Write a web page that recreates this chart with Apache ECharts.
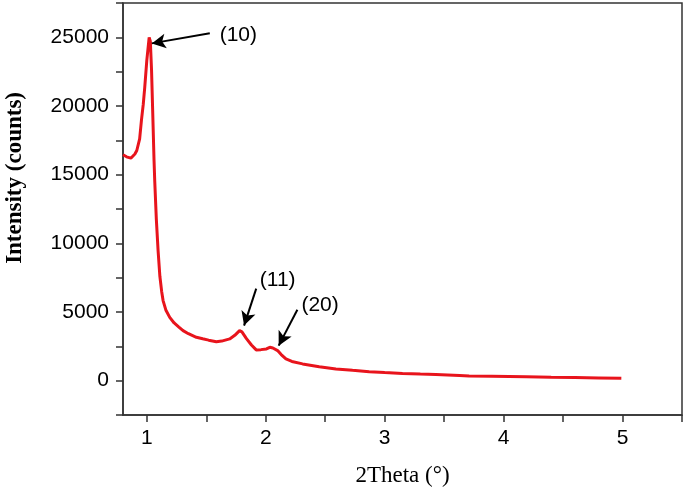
<!DOCTYPE html>
<html><head><meta charset="utf-8">
<script src="https://cdn.jsdelivr.net/npm/echarts@6/dist/echarts.min.js"></script>
<style>html,body{margin:0;padding:0;background:#fff}#c{width:685px;height:491px}</style>
</head><body><div id="c"></div>
<script>
const twoTheta = [0.80,0.83,0.866,0.90,0.916,0.94,0.955,0.97,0.983,1.00,1.02,1.03,1.04,1.05,1.061,1.067,1.08,1.095,1.11,1.125,1.137,1.16,1.193,1.23,1.27,1.305,1.35,1.417,1.47,1.52,1.585,1.63,1.697,1.74,1.78,1.80,1.838,1.88,1.92,1.96,2.006,2.034,2.06,2.1,2.13,2.17,2.22,2.31,2.45,2.59,2.73,2.87,3.0,3.15,3.3,3.43,3.63,3.71,3.9,4.19,4.4,4.6,4.8,4.99];
const intensity = [16450,16300,16200,16500,16760,17600,18950,20100,21380,23300,25000,24700,22600,19500,16030,14500,11800,9475,7600,6500,5830,5150,4610,4200,3900,3640,3420,3160,3050,2950,2840,2880,3040,3300,3640,3550,3060,2600,2240,2260,2310,2430,2380,2190,1900,1580,1400,1220,1020,850,750,655,590,530,480,440,380,340,320,290,255,230,200,170];
const xTickValues = [1,1.5,2,2.5,3,3.5,4,4.5,5,5.5];
const xLabelValues = [1,2,3,4,5];
const yTickValues = [-2500,0,2500,5000,7500,10000,12500,15000,17500,20000,22500,25000,27500];
const yLabelValues = [0,5000,10000,15000,20000,25000];
const peakLabels = ['(10)','(11)','(20)'];
const arrowFrom = [[1.53,25290],[1.92,6700],[2.266,5170]];
const arrowTo = [[1.042,24560],[1.818,4010],[2.109,2550]];
const labelPos = [[1.613,25150],[1.95,7290],[2.30,5470]];
const xTitle = '2Theta (°)';
const yTitle = 'Intensity (counts)';

const chart = echarts.init(document.getElementById('c'));
const axisCol = '#333';
chart.setOption({
  animation:false,
  grid:{left:123,right:3,top:3,bottom:76,show:true,borderColor:axisCol,borderWidth:1.5,containLabel:false,outerBoundsMode:'none'},
  graphic:[{type:'text',left:4,top:92,rotation:Math.PI/2,
    style:{text:yTitle,fontFamily:'Liberation Serif',fontWeight:'bold',fontSize:23,fill:'#000'}}],
  xAxis:{type:'value',min:0.8,max:5.5,
    name:xTitle,nameLocation:'middle',nameGap:49,
    nameTextStyle:{fontFamily:'Liberation Serif',fontSize:23,color:'#000'},
    axisLine:{onZero:false,lineStyle:{color:axisCol,width:1.5}},
    axisTick:{inside:false,length:7,lineStyle:{color:axisCol,width:1.5},customValues:xTickValues},
    axisLabel:{fontFamily:'Liberation Sans',fontSize:21,color:'#000',margin:13,customValues:xLabelValues,formatter:v=>String(v)},
    splitLine:{show:false}},
  yAxis:{type:'value',min:-2500,max:27500,
    axisLine:{onZero:false,lineStyle:{color:axisCol,width:1.5}},
    axisTick:{inside:false,length:7,lineStyle:{color:axisCol,width:1.5},customValues:yTickValues},
    axisLabel:{fontFamily:'Liberation Sans',fontSize:21,color:'#000',margin:14,customValues:yLabelValues,formatter:v=>String(v)},
    splitLine:{show:false}},
  series:[{type:'line',data:twoTheta.map((x,i)=>[x,intensity[i]]),showSymbol:false,
    lineStyle:{color:'#e8141c',width:3},itemStyle:{color:'#e8141c'},
    markLine:{silent:true,symbol:['none','arrow'],symbolSize:[11,14],
      lineStyle:{color:'#000',width:2,type:'solid'},label:{show:false},
      data:arrowFrom.map((f,i)=>[{coord:f},{coord:arrowTo[i]}])},
    markPoint:{silent:true,symbol:'circle',symbolSize:0,
      data:labelPos.map((p,i)=>({coord:p,value:peakLabels[i]})),
      label:{show:true,position:'right',distance:0,formatter:p=>p.value,
        fontFamily:'Liberation Sans',fontSize:21,color:'#000'}}
  }]
});
</script></body></html>
